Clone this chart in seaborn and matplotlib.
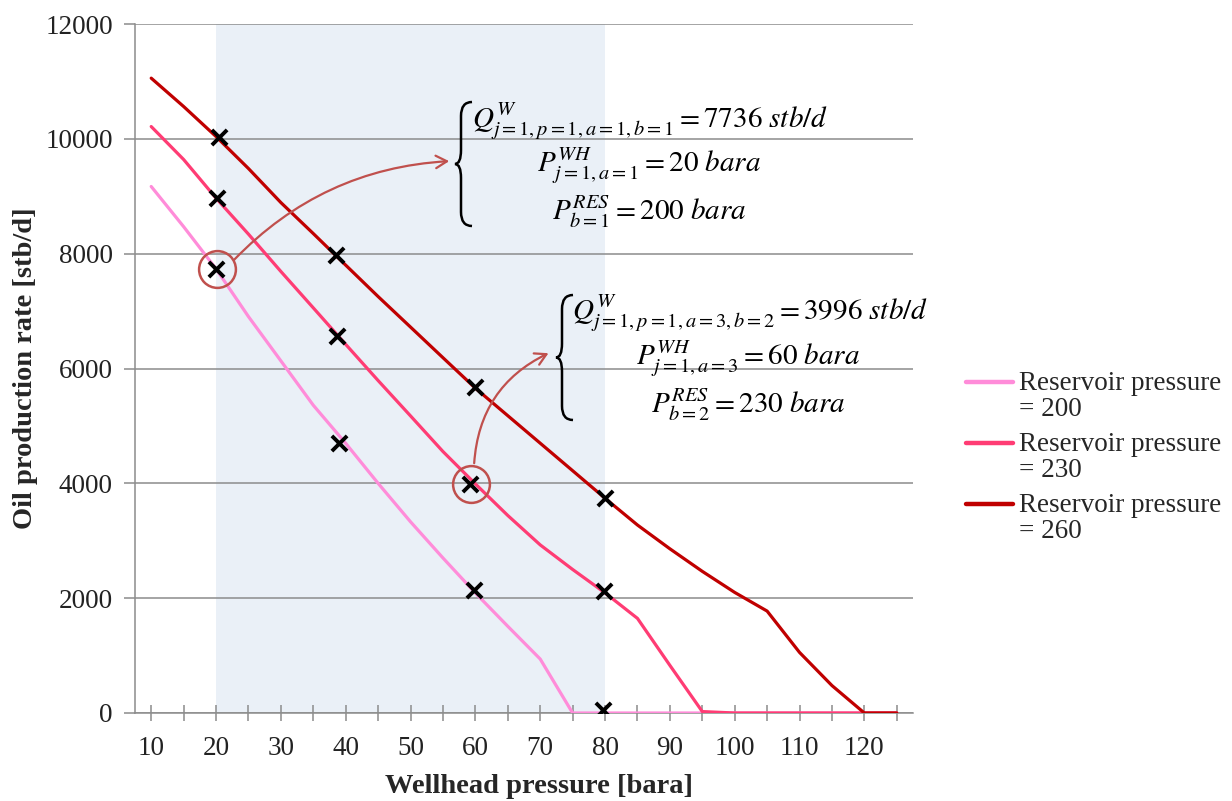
import numpy as np
import pandas as pd
import matplotlib
matplotlib.use("Agg")
import matplotlib.pyplot as plt
import seaborn as sns
from matplotlib.path import Path
from matplotlib.patches import PathPatch
from matplotlib.lines import Line2D
from matplotlib.legend_handler import HandlerLine2D

# ---------------- data ----------------
wellhead_pressure = [10, 15, 20, 25, 30, 35, 40, 45, 50, 55, 60, 65, 70, 75,
                     80, 85, 90, 95, 100, 105, 110, 115, 120, 125]
rate_res200 = [9170, 8470, 7736, 6904, 6133, 5360, 4697, 4000, 3330, 2700, 2090, 1510,
               940, 0, 0, 0, 0, 0, 0, 0, 0, 0, 0, 0]
rate_res230 = [10214, 9640, 8967, 8340, 7690, 7056, 6420, 5790, 5174, 4554, 3990, 3440,
               2928, 2500, 2092, 1648, 830, 25, 0, 0, 0, 0, 0, 0]
rate_res260 = [11057, 10563, 10040, 9483, 8890, 8350, 7800, 7253, 6721, 6188, 5657, 5178,
               4699, 4220, 3740, 3274, 2860, 2467, 2100, 1775, 1055, 478, 0, 0]
series_labels = ["Reservoir pressure\n= 200", "Reservoir pressure\n= 230",
                 "Reservoir pressure\n= 260"]
series_colors = ["#FF8CD9", "#FF3C74", "#C00000"]

marker_x = [20.4, 20.2, 20.0, 38.5, 38.7, 39.0, 60.0, 59.2, 59.8, 80.0, 79.8, 79.7]
marker_y = [10030, 8965, 7736, 7975, 6570, 4705, 5680, 3996, 2140, 3745, 2125, 45]

circled_x = [20.1, 59.3]
circled_y = [7736, 3996]

shade_range = (20, 80)
x_ticks = [10, 20, 30, 40, 50, 60, 70, 80, 90, 100, 110, 120]
y_ticks = [0, 2000, 4000, 6000, 8000, 10000, 12000]

df = pd.DataFrame({
    "P": wellhead_pressure * 3,
    "Q": rate_res200 + rate_res230 + rate_res260,
    "series": [series_labels[0]] * 24 + [series_labels[1]] * 24 + [series_labels[2]] * 24,
})

# ---------------- style ----------------
sns.set_style("white")
plt.rcParams["font.family"] = ["Liberation Serif", "DejaVu Serif"]
plt.rcParams["mathtext.fontset"] = "stix"

W, H = 1232, 801
fig = plt.figure(figsize=(W / 100, H / 100), dpi=100)
L, R, T, B = 135, 913, 24, 713
ax = fig.add_axes([L / W, 1 - B / H, (R - L) / W, (B - T) / H])

ax.axvspan(*shade_range, color="#EAF0F7", zorder=0.3, lw=0)

sns.lineplot(data=df, x="P", y="Q", hue="series", palette=series_colors,
             hue_order=series_labels, linewidth=2.3, ax=ax, legend=False,
             zorder=3)
sns.scatterplot(x=marker_x, y=marker_y, marker="x", color="black", s=120,
                linewidth=2.8, ax=ax, zorder=5)

# circles
ax.plot(circled_x, circled_y, linestyle="none", marker="o", markersize=26.5,
        markerfacecolor="none", markeredgecolor="#C0504D", markeredgewidth=1.8,
        zorder=6)

ax.set_xlim(7.5, 127.5)
ax.set_ylim(0, 12000)
ax.set_xticks(x_ticks)
ax.set_xticks(np.arange(10, 130, 5), minor=True)
ax.set_yticks(y_ticks)
ax.grid(axis="y", color="#8C8C8C", linewidth=1.1)
ax.set_axisbelow(True)
for s in ["top", "right"]:
    ax.spines[s].set_visible(False)
for s in ["left", "bottom"]:
    ax.spines[s].set_color("#8C8C8C")
    ax.spines[s].set_linewidth(1.1)
ax.tick_params(axis="x", which="both", direction="inout", length=11, width=1.1,
               color="#8C8C8C", labelsize=19.5, pad=11, bottom=True)
ax.tick_params(axis="y", direction="out", length=8, width=1.1, color="#8C8C8C",
               labelsize=19.5, pad=8, left=True)
for lab in ax.get_xticklabels() + ax.get_yticklabels():
    lab.set_color("#222222")

ax.set_xlabel("Wellhead pressure [bara]", fontsize=20.5, fontweight="bold")
ax.set_ylabel("Oil production rate [stb/d]", fontsize=20.5, fontweight="bold")
ax.xaxis.set_label_coords((539 - L) / (R - L), -(774 - B) / (B - T))
ax.yaxis.set_label_coords(-(L - 38) / (R - L), 0.5)


class UpLine(HandlerLine2D):
    def __init__(self, dy, **kw):
        super().__init__(**kw)
        self.dy = dy

    def create_artists(self, legend, orig_handle, xdescent, ydescent, width,
                       height, fontsize, trans):
        arts = super().create_artists(legend, orig_handle, xdescent, ydescent,
                                      width, height, fontsize, trans)
        for a in arts:
            a.set_ydata(np.asarray(a.get_ydata(), dtype=float) + self.dy)
        return arts


# legend
handles = [Line2D([0], [0], color=c, lw=3.2) for c in series_colors]
leg = fig.legend(handles, series_labels, loc="upper left",
                 bbox_to_anchor=(955 / W, 1 - 360 / H), frameon=False,
                 fontsize=19.5, handlelength=1.75, handletextpad=0.2,
                 labelspacing=0.38, borderaxespad=0,
                 handler_map={Line2D: UpLine(10.5)})
for t in leg.get_texts():
    t.set_linespacing(1.05)

# ---------------- annotations ----------------
def fp(x, y):
    return (x, H - y)

arrow_kw = dict(arrowstyle="->,head_length=0.8,head_width=0.45", color="#C0504D", lw=1.6)
ax.annotate("", xy=fp(452, 161), xycoords="figure pixels",
            xytext=fp(232, 262), textcoords="figure pixels",
            arrowprops=dict(connectionstyle="arc3,rad=-0.2", **arrow_kw))
ax.annotate("", xy=fp(551, 352), xycoords="figure pixels",
            xytext=fp(474, 466), textcoords="figure pixels",
            arrowprops=dict(connectionstyle="arc3,rad=-0.3", **arrow_kw))

def brace(xs, yt, yb, d=6, w=11):
    ym = (yt + yb) / 2
    r = 14
    verts = [
        (xs + w, yt), (xs, yt), (xs, yt + r),
        (xs, ym - r),
        (xs, ym), (xs - d, ym),
        (xs, ym), (xs, ym + r),
        (xs, yb - r),
        (xs, yb), (xs + w, yb),
    ]
    codes = [Path.MOVETO, Path.CURVE3, Path.CURVE3, Path.LINETO,
             Path.CURVE3, Path.CURVE3, Path.CURVE3, Path.CURVE3,
             Path.LINETO, Path.CURVE3, Path.CURVE3]
    verts = [(x / W, 1 - y / H) for x, y in verts]
    fig.add_artist(PathPatch(Path(verts, codes), transform=fig.transFigure,
                             fill=False, lw=1.8, color="black"))

brace(461, 102, 226)
brace(562, 295, 420)

fs_m = 21
def mtext(x, y, s, ha):
    fig.text(x / W, 1 - y / H, s, ha=ha, va="center", fontsize=fs_m, color="black")

mtext(472, 121, r"$Q^{W}_{j=1,p=1,a=1,b=1}=7736\ stb/d$", "left")
mtext(649, 166, r"$P^{WH}_{j=1,a=1}=20\ bara$", "center")
mtext(649, 212, r"$P^{RES}_{b=1}=200\ bara$", "center")
mtext(572, 313, r"$Q^{W}_{j=1,p=1,a=3,b=2}=3996\ stb/d$", "left")
mtext(748, 359, r"$P^{WH}_{j=1,a=3}=60\ bara$", "center")
mtext(748, 405, r"$P^{RES}_{b=2}=230\ bara$", "center")

fig.savefig("out.png", dpi=100, facecolor="white")
